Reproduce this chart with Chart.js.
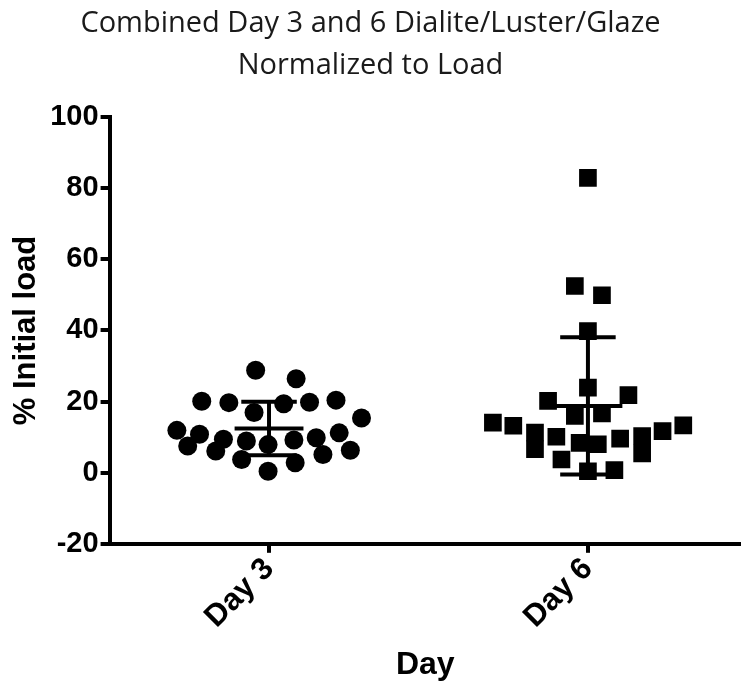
<!DOCTYPE html>
<html>
<head>
<meta charset="utf-8">
<script src="https://cdn.jsdelivr.net/npm/chart.js@4"></script>
<style>
  html, body { margin: 0; padding: 0; background: #fff; }
  #wrap { width: 741px; height: 686px; }
</style>
</head>
<body>
<div id="wrap"><canvas id="chart"></canvas></div>
<script>
// ==============================
// DATA
// ==============================
const groupLabels = ["Day 3", "Day 6"];

// Day 3 - x is category position (1) plus scatter spread
const day3X = [0.958, 1.085, 0.789, 0.874, 0.953, 1.046, 1.127, 1.210, 1.290, 0.711, 0.782, 0.745,
               0.857, 0.833, 0.929, 0.914, 0.997, 0.997, 1.078, 1.082, 1.148, 1.169, 1.220, 1.255];
const day3Y = [28.8, 26.4, 20.1, 19.7, 16.9, 19.4, 19.8, 20.4, 15.4, 11.9, 10.8, 7.5,
               9.4, 6.1, 8.9, 3.7, 7.9, 0.4, 9.2, 2.8, 9.8, 5.1, 11.2, 6.3];

// Day 6
const day6X = [2.000, 1.959, 2.044, 2.000, 2.000, 1.875, 2.127, 1.959, 2.044, 1.702, 1.766, 1.834,
               1.834, 1.901, 1.974, 2.031, 2.101, 2.170, 2.170, 2.234, 2.299, 1.917, 2.000, 2.083];
const day6Y = [82.9, 52.5, 49.9, 39.8, 23.9, 20.2, 21.8, 16.0, 16.7, 14.1, 13.2, 11.3,
               6.6, 10.1, 8.4, 8.0, 9.6, 10.3, 5.4, 11.7, 13.3, 3.7, 0.4, 0.7];

const yTicks = [-20, 0, 20, 40, 60, 80, 100];

// ==============================
// HELPERS
// ==============================
function toPoints(xs, ys) {
  return xs.map((x, i) => ({ x: x, y: ys[i] }));
}

function meanSd(values) {
  const m = values.reduce((a, b) => a + b, 0) / values.length;
  const v = values.reduce((a, b) => a + (b - m) * (b - m), 0) / (values.length - 1);
  return { mean: m, sd: Math.sqrt(v) };
}

// mean line + SD whiskers, as one line dataset with gaps
function errorBar(center, values) {
  const s = meanSd(values);
  const hw = 0.108, cw = 0.087;
  const hi = s.mean + s.sd, lo = s.mean - s.sd;
  return {
    type: "line",
    data: [
      { x: center - hw, y: s.mean }, { x: center + hw, y: s.mean }, { x: center, y: null },
      { x: center - cw, y: hi }, { x: center + cw, y: hi }, { x: center, y: null },
      { x: center - cw, y: lo }, { x: center + cw, y: lo }, { x: center, y: null },
      { x: center, y: lo }, { x: center, y: hi }
    ],
    borderColor: "#000",
    borderWidth: 4,
    pointRadius: 0,
    spanGaps: false,
    order: 0,
  };
}

// the x axis runs right to the edge of the picture
const stretchX = {
  id: "stretchX",
  afterLayout(chart) {
    const x = chart.scales.x;
    x.right = chart.width;
    x.width = x.right - x.left;
    x.configure();
    chart.chartArea.right = chart.width;
    chart.chartArea.width = chart.chartArea.right - chart.chartArea.left;
  },
};

const BOLD = "'Liberation Sans', Arial, sans-serif";

// ==============================
// CHART
// ==============================
const ctx = document.getElementById("chart").getContext("2d");

new Chart(ctx, {
  type: "scatter",
  plugins: [stretchX],
  data: {
    datasets: [
      {
        label: groupLabels[0],
        data: toPoints(day3X, day3Y),
        pointStyle: "circle",
        pointRadius: 9.5,
        pointBorderWidth: 0,
        backgroundColor: "#000",
        borderColor: "#000",
        order: 1,
      },
      {
        label: groupLabels[1],
        data: toPoints(day6X, day6Y),
        pointStyle: "rect",
        pointRadius: 12.5,
        pointBorderWidth: 0,
        backgroundColor: "#000",
        borderColor: "#000",
        order: 1,
      },
      errorBar(1, day3Y),
      errorBar(2, day6Y),
    ],
  },
  options: {
    responsive: true,
    maintainAspectRatio: false,
    animation: false,
    events: [],
    layout: {
      padding: { top: 3, right: 0, bottom: 2, left: 0 },
    },
    plugins: {
      legend: { display: false },
      tooltip: { enabled: false },
      title: {
        display: true,
        text: ["Combined Day 3 and 6 Dialite/Luster/Glaze", "Normalized to Load"],
        color: "#1a1a1a",
        font: { family: "'Open Sans', sans-serif", size: 29, weight: "normal", lineHeight: 1.45 },
        padding: { top: 0, bottom: 30 },
      },
    },
    scales: {
      x: {
        type: "linear",
        min: 0.5,
        max: 2.48,
        afterBuildTicks: (axis) => {
          axis.ticks = groupLabels.map((_, i) => ({ value: i + 1 }));
        },
        border: { display: true, color: "#000", width: 4 },
        grid: {
          display: true,
          drawOnChartArea: false,
          drawTicks: true,
          tickLength: 9,
          lineWidth: 4,
          color: "#000",
        },
        ticks: {
          autoSkip: false,
          minRotation: 45,
          maxRotation: 45,
          padding: -2,
          color: "#000",
          font: { family: BOLD, size: 31, weight: "bold" },
          callback: (v) => groupLabels[Math.round(v) - 1] || "",
        },
        title: {
          display: true,
          text: "Day",
          color: "#000",
          font: { family: BOLD, size: 32, weight: "bold" },
          padding: { top: 12, bottom: 0 },
        },
      },
      y: {
        min: -20,
        max: 100,
        afterBuildTicks: (axis) => {
          axis.ticks = yTicks.map(v => ({ value: v }));
        },
        border: { display: true, color: "#000", width: 4 },
        grid: {
          display: true,
          drawOnChartArea: false,
          drawTicks: true,
          tickLength: 9,
          lineWidth: 4,
          color: "#000",
        },
        ticks: {
          padding: 2,
          color: "#000",
          font: { family: BOLD, size: 29, weight: "bold" },
        },
        title: {
          display: true,
          text: "% Initial load",
          color: "#000",
          font: { family: BOLD, size: 31, weight: "bold" },
          padding: { top: 8, bottom: 3 },
        },
      },
    },
  },
});
</script>
</body>
</html>
